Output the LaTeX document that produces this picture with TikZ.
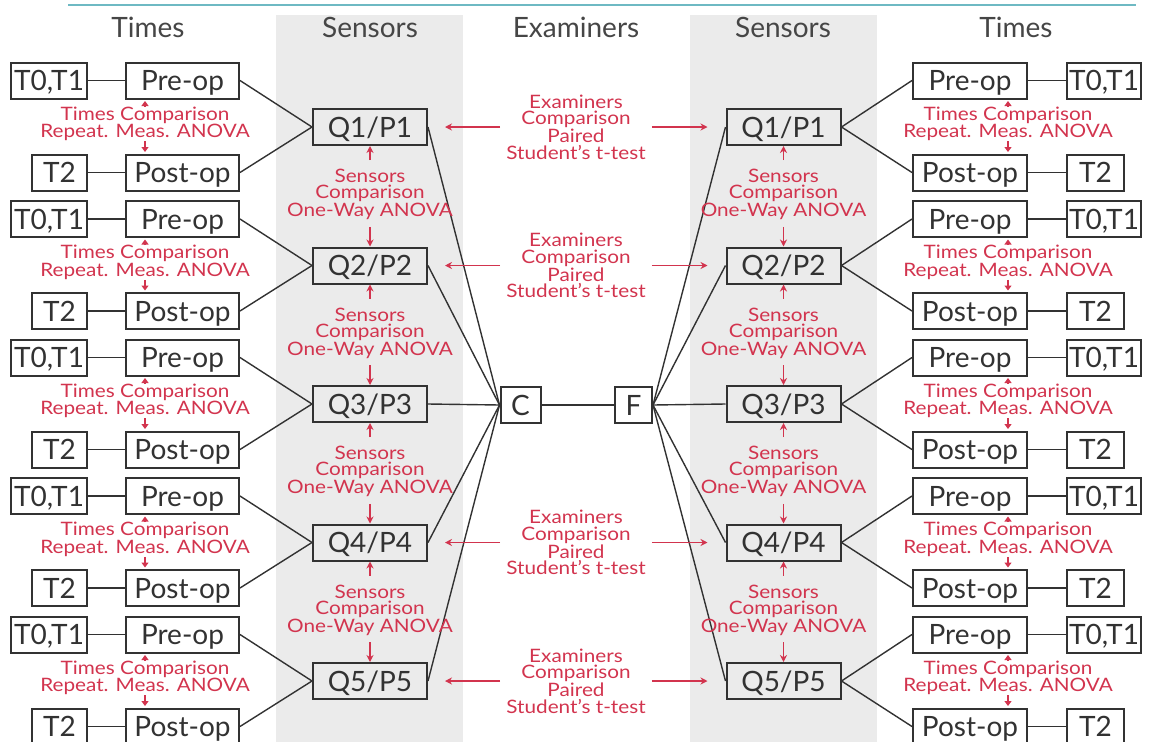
\documentclass[tikz,border=0pt]{standalone}
\usepackage{fontspec}
\setmainfont{Lato}
\newfontfamily\redfont[FakeStretch=1.12,Ligatures=TeX]{Lato}
\usetikzlibrary{arrows.meta}
\definecolor{redc}{RGB}{210,52,78}
\definecolor{boxc}{RGB}{50,50,50}
\definecolor{bandc}{RGB}{235,235,235}
\definecolor{topc}{RGB}{110,185,195}
\begin{document}
\begin{tikzpicture}[x=1pt,y=-1pt,
  bx/.style={draw=boxc,line width=2pt,minimum height=36pt,inner xsep=2pt,inner ysep=0pt,
    text height=20pt,text depth=0pt,font=\fontsize{28}{30}\selectfont,text=boxc},
  hd/.style={font=\fontsize{28}{30}\selectfont,text=boxc!90,inner sep=0pt},
  rl/.style={text=redc,font=\redfont\fontsize{18.5}{15.6}\selectfont,align=center,inner sep=0pt},
  rl3/.style={text=redc,font=\redfont\fontsize{18.5}{16.2}\selectfont,align=center,inner sep=0pt},
  rl2/.style={text=redc,font=\redfont\fontsize{18.5}{16.5}\selectfont,align=center,inner sep=0pt},
  ln/.style={draw=boxc,line width=1.4pt},
  rar/.style={draw=redc,line width=1.6pt,-{Stealth[length=7pt,width=7pt]}},
  tar/.style={draw=redc,line width=1.2pt,-{Triangle[length=5pt,width=7pt]},shorten >=1.5pt}
]
\useasboundingbox (0,0) rectangle (1152,742);
\clip (0,0) rectangle (1152,742);
\fill[bandc] (276,15) rectangle (463,742);
\fill[bandc] (690,15) rectangle (877,742);
\draw[topc,line width=1.5pt] (68,5) -- (1136,5);

\node[hd] (h1) at (148,27) {Times};
\node[hd] (h2) at (370,27) {Sensors};
\node[hd] (h3) at (576,27) {Examiners};
\node[hd] (h4) at (783,27) {Sensors};
\node[hd] (h5) at (1016,27) {Times};

\node[bx,minimum width=40pt] (C) at (520.5,405) {C};
\node[bx,minimum width=37pt] (F) at (633.5,405) {F};
\draw[ln] (C.east) -- (F.west);

\foreach \k in {1,...,5} {
  \pgfmathsetmacro\q{127+138.5*(\k-1)}
  % left side
  \node[bx,minimum width=114pt] (LQ\k) at (370,\q) {Q\k/P\k};
  \node[bx,minimum width=113pt] (Lpre\k) at (182.5,\q-46.5) {Pre-op};
  \node[bx,minimum width=113pt] (Lpost\k) at (182.5,\q+45.5) {Post-op};
  \node[bx,minimum width=76pt,anchor=east] (Lt\k) at (88,\q-46.5) {T0,T1};
  \node[bx,minimum width=55pt,anchor=east] (Ltt\k) at (88,\q+45.5) {T2};
  \node[rl] (Ltc\k) at (145,\q-3) {Times Comparison\\Repeat. Meas. ANOVA};
  \draw[ln] (Lt\k.east) -- (Lpre\k.west);
  \draw[ln] (Ltt\k.east) -- (Lpost\k.west);
  \draw[ln] (Lpre\k.east) -- (LQ\k.west);
  \draw[ln] (Lpost\k.east) -- (LQ\k.west);
  \draw[ln] (LQ\k.east) -- (C.west);
  \draw[tar] (Ltc\k.north) -- (Ltc\k.north |- Lpre\k.south);
  \draw[tar] (Ltc\k.south) -- (Ltc\k.south |- Lpost\k.north);
  % right side
  \node[bx,minimum width=114pt] (RQ\k) at (783.5,\q) {Q\k/P\k};
  \node[bx,minimum width=114pt] (Rpre\k) at (970,\q-46.5) {Pre-op};
  \node[bx,minimum width=114pt] (Rpost\k) at (970,\q+45.5) {Post-op};
  \node[bx,minimum width=74pt,anchor=west] (Rt\k) at (1066,\q-46.5) {T0,T1};
  \node[bx,minimum width=57pt,anchor=west] (Rtt\k) at (1066,\q+45.5) {T2};
  \node[rl] (Rtc\k) at (1008,\q-3) {Times Comparison\\Repeat. Meas. ANOVA};
  \draw[ln] (Rpre\k.east) -- (Rt\k.west);
  \draw[ln] (Rpost\k.east) -- (Rtt\k.west);
  \draw[ln] (RQ\k.east) -- (Rpre\k.west);
  \draw[ln] (RQ\k.east) -- (Rpost\k.west);
  \draw[ln] (F.east) -- (RQ\k.west);
  \draw[tar] (Rtc\k.north) -- (Rtc\k.north |- Rpre\k.south);
  \draw[tar] (Rtc\k.south) -- (Rtc\k.south |- Rpost\k.north);
}

\foreach \k in {1,...,4} {
  \pgfmathsetmacro\q{127+138.5*(\k-1)}
  \pgfmathtruncatemacro\kk{\k+1}
  \node[rl3] (Lsc\k) at (370,\q+67.5) {Sensors\\Comparison\\One-Way ANOVA};
  \draw[rar,shorten <=9pt] (Lsc\k.north) -- (LQ\k.south);
  \draw[rar,shorten <=7pt] (Lsc\k.south) -- (LQ\kk.north);
  \node[rl3] (Rsc\k) at (783.5,\q+67.5) {Sensors\\Comparison\\One-Way ANOVA};
  \draw[rar,shorten <=9pt] (Rsc\k.north) -- (RQ\k.south);
  \draw[rar,shorten <=7pt] (Rsc\k.south) -- (RQ\kk.north);
}

\foreach \k in {1,2,4,5} {
  \pgfmathsetmacro\q{127+138.5*(\k-1)}
  \node[rl2] (ex\k) at (576,\q) {Examiners\\Comparison\\Paired\\Student’s t-test};
  \draw[rar,shorten <=6pt,shorten >=17pt] (ex\k.west) -- (LQ\k.east);
  \draw[rar,shorten <=6pt,shorten >=18pt] (ex\k.east) -- (RQ\k.west);
}
\end{tikzpicture}
\end{document}
